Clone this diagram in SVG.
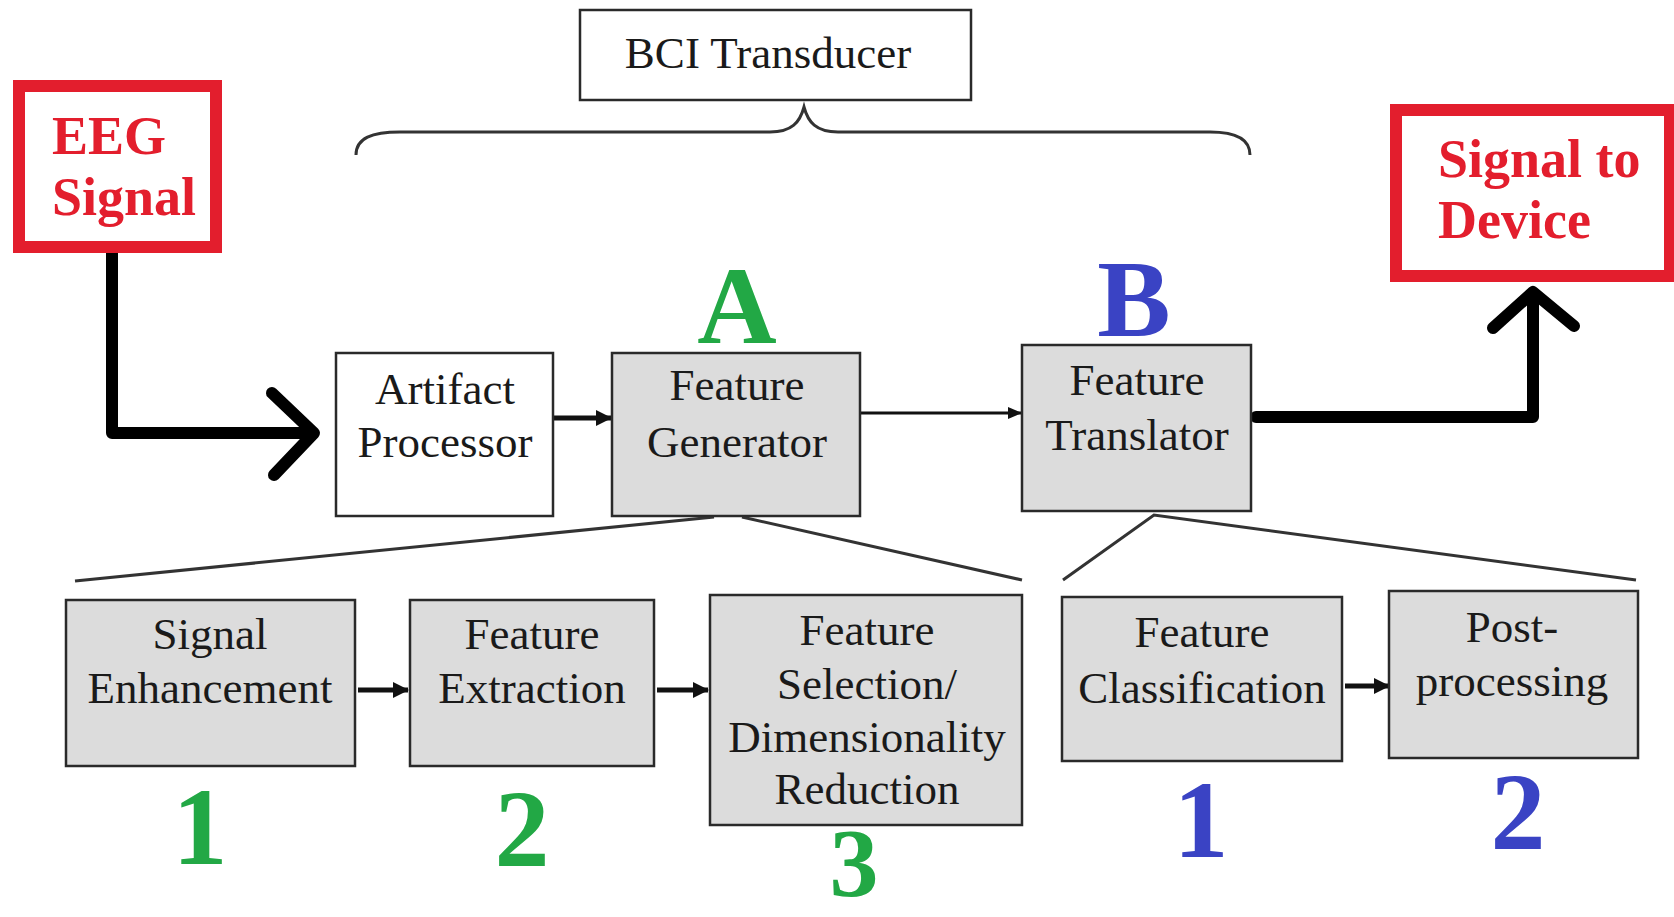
<svg xmlns="http://www.w3.org/2000/svg" width="1674" height="917" viewBox="0 0 1674 917">
<defs>
<marker id="ah" markerUnits="userSpaceOnUse" markerWidth="14" markerHeight="14" viewBox="0 0 14 14" refX="13" refY="7" orient="auto">
<path d="M0,1 L14,7 L0,13 Z" fill="#111"/>
</marker>
<marker id="ah2" markerUnits="userSpaceOnUse" markerWidth="16" markerHeight="18" viewBox="0 0 16 18" refX="15" refY="9" orient="auto">
<path d="M0,1 L16,9 L0,17 Z" fill="#111"/>
</marker>
<style>
.box{fill:#dcdcdc;stroke:#2a2a2a;stroke-width:2.5}
.wbox{fill:#fff;stroke:#2a2a2a;stroke-width:2.5}
.red{fill:#fff;stroke:#e31e2d;stroke-width:12}
.t{font-family:"Liberation Serif","Times New Roman",serif;font-size:45px;fill:#1a1a1a;text-anchor:middle}
.rt{font-family:"Liberation Serif","Times New Roman",serif;font-size:54px;font-weight:bold;fill:#e31e2d}
.big{font-family:"Liberation Serif","Times New Roman",serif;font-size:110px;font-weight:bold;text-anchor:middle}
.g{fill:#22a845}
.b{fill:#3a43c4}
.thin{fill:none;stroke:#111;stroke-width:3}
.mid{fill:none;stroke:#111;stroke-width:5}
.line{fill:none;stroke:#333;stroke-width:3}
.thick{fill:none;stroke:#000;stroke-width:12;stroke-linecap:round;stroke-linejoin:round}
</style>
</defs>
<rect width="1674" height="917" fill="#fff"/>

<g id="connectors">
<path class="line" d="M356,155 C356,138 372,132 400,132 L770,132 C792,132 800,122 804,107 C808,122 816,132 838,132 L1210,132 C1238,132 1250,140 1250,155"/>
<path class="thick" d="M112,253 L112,433 L312,433"/>
<path class="thick" d="M272,393 L314,433 L274,475"/>
<path class="mid" d="M553,418 L611,418" marker-end="url(#ah2)"/>
<path class="thin" d="M860,413 L1021,413" marker-end="url(#ah)"/>
<path class="thick" d="M1256,417 L1533,417 L1533,294"/>
<path class="thick" d="M1493,328 L1533,292 L1574,326"/>
<path class="line" d="M75,581 L714,517"/>
<path class="line" d="M742,517 L1022,580"/>
<path class="line" d="M1063,580 L1154,515 L1636,580"/>
<path class="mid" d="M358,690 L408,690" marker-end="url(#ah2)"/>
<path class="mid" d="M657,690 L708,690" marker-end="url(#ah2)"/>
<path class="mid" d="M1345,686 L1389,686" marker-end="url(#ah2)"/>
</g>

<g id="bci-transducer">
<rect class="wbox" x="580" y="10" width="391" height="90"/>
<text class="t" x="768" y="68">BCI Transducer</text>
</g>

<g id="eeg-signal">
<rect class="red" x="19" y="86" width="197" height="161"/>
<text class="rt" x="52" y="154">EEG</text>
<text class="rt" x="52" y="215">Signal</text>
</g>

<g id="signal-to-device">
<rect class="red" x="1396" y="110" width="274" height="166"/>
<text class="rt" x="1438" y="177">Signal to</text>
<text class="rt" x="1438" y="238">Device</text>
</g>

<g id="artifact-processor">
<rect class="wbox" x="336" y="353" width="217" height="163"/>
<text class="t" x="445" y="404">Artifact</text>
<text class="t" x="445" y="457">Processor</text>
</g>

<g id="feature-generator">
<rect class="box" x="612" y="353" width="248" height="163"/>
<text class="t" x="737" y="400">Feature</text>
<text class="t" x="737" y="457">Generator</text>
<text class="big g" x="737" y="343">A</text>
</g>

<g id="feature-translator">
<rect class="box" x="1022" y="345" width="229" height="166"/>
<text class="t" x="1137" y="395">Feature</text>
<text class="t" x="1137" y="450">Translator</text>
<text class="big b" x="1134" y="336">B</text>
</g>

<g id="signal-enhancement">
<rect class="box" x="66" y="600" width="289" height="166"/>
<text class="t" x="210" y="649">Signal</text>
<text class="t" x="210" y="703">Enhancement</text>
<text class="big g" x="200" y="864">1</text>
</g>

<g id="feature-extraction">
<rect class="box" x="410" y="600" width="244" height="166"/>
<text class="t" x="532" y="649">Feature</text>
<text class="t" x="532" y="703">Extraction</text>
<text class="big g" x="522" y="866">2</text>
</g>

<g id="feature-selection">
<rect class="box" x="710" y="595" width="312" height="230"/>
<text class="t" x="867" y="645">Feature</text>
<text class="t" x="867" y="699">Selection/</text>
<text class="t" x="867" y="752">Dimensionality</text>
<text class="t" x="867" y="804">Reduction</text>
<text class="big g" x="854" y="896" style="font-size:98px">3</text>
</g>

<g id="feature-classification">
<rect class="box" x="1062" y="597" width="280" height="164"/>
<text class="t" x="1202" y="647">Feature</text>
<text class="t" x="1202" y="703">Classification</text>
<text class="big b" x="1201" y="857">1</text>
</g>

<g id="post-processing">
<rect class="box" x="1389" y="591" width="249" height="167"/>
<text class="t" x="1512" y="642">Post-</text>
<text class="t" x="1512" y="696">processing</text>
<text class="big b" x="1518" y="849">2</text>
</g>
</svg>
